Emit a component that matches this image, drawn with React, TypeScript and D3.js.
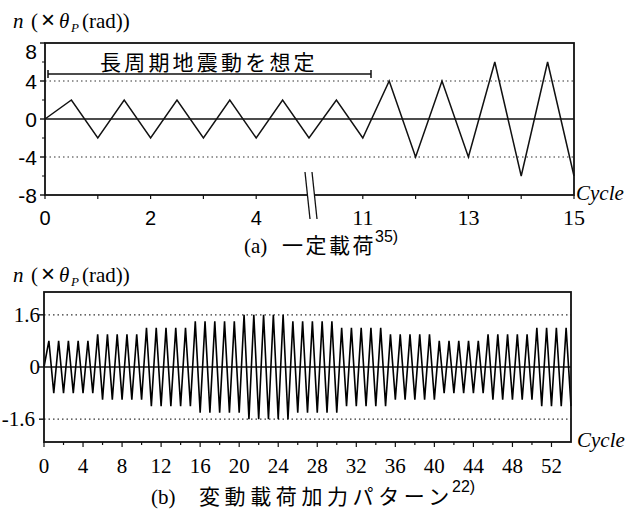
import * as d3 from 'd3';
import React, { useEffect, useRef } from 'react';

// (a) constant loading: cycles drawn and their amplitude (x theta_p)
const topCycles = [0, 1, 2, 3, 4, 10, 11, 12, 13, 14];
const topAmps = [2, 2, 2, 2, 2, 2, 4, 4, 6, 6];
const topYTicks = [-8, -4, 0, 4, 8];
const topYMinor = [-6, -2, 2, 6];
const topXTicks = [0, 1, 2, 3, 4, 5, 10, 11, 12, 13, 14, 15];
const topXLabelsSans = [0, 2, 4];
const topXLabelsSerif = [11, 13, 15];
const topDotted = [-4, 4];

// (b) variable loading: amplitude of each cycle 0..53
const botAmps = [
    0.8, 0.8, 0.8, 0.8, 0.8,
    1.0, 1.0, 1.0, 1.0, 1.0,
    1.2, 1.2, 1.2, 1.2, 1.2,
    1.4, 1.4, 1.4, 1.4, 1.4,
    1.6, 1.6, 1.6, 1.6, 1.6,
    1.4, 1.4, 1.4, 1.4, 1.4,
    1.2, 1.2, 1.2, 1.2, 1.2,
    1.0, 1.0, 1.0, 1.0, 1.0,
    0.8, 0.8, 0.8, 0.8, 0.8,
    1.0, 1.0, 1.0, 1.0, 1.0,
    1.2, 1.2, 1.2, 1.2
];
const botYTicks = [-1.6, 0, 1.6];
const botXLabels = [0, 4, 8, 12, 16, 20, 24, 28, 32, 36, 40, 44, 48, 52];
const botXTicks = d3.range(0, 54, 2);
const botDotted = [-1.6, 1.6];

const SERIF = '"Liberation Serif", "Times New Roman", serif';
const SANS = '"Liberation Sans", Arial, sans-serif';
const CJK = '"Noto Sans CJK JP", sans-serif';

function wave(cycles: number[], amps: number[]): [number, number][] {
    const pts: [number, number][] = [[cycles[0], 0]];
    cycles.forEach((c, i) => {
        pts.push([c + 0.5, amps[i]]);
        pts.push([c + 1, -amps[i]]);
    });
    return pts;
}

function yLabel(svg: any, y: number) {
    const t = svg.append('text')
        .attr('y', y)
        .style('font-family', SERIF)
        .style('font-size', '21px')
        .attr('fill', '#000');
    t.append('tspan').attr('x', 13).style('font-style', 'italic').text('n');
    t.append('tspan').attr('x', 31).text('(');
    t.append('tspan').attr('x', 41).style('font-family', SANS).style('font-size', '24px').text('×');
    t.append('tspan').attr('x', 59).style('font-style', 'italic').text('θ');
    t.append('tspan').attr('x', 71).attr('dy', 4).style('font-style', 'italic').style('font-size', '13px').text('P');
    t.append('tspan').attr('x', 82).attr('dy', -4).text('(rad))');
}

export default function App() {
    const ref = useRef<SVGSVGElement>(null);

    useEffect(() => {
        const svg = d3.select(ref.current);
        svg.selectAll('*').remove();

        // ---------- (a) ----------
        const x1 = d3.scaleLinear().domain([0, 5, 10, 15]).range([45, 309, 310, 574]);
        const y1 = d3.scaleLinear().domain([-8, 8]).range([195, 43]);

        yLabel(svg, 28);

        const g1 = svg.append('g');

        topDotted.forEach(v => {
            g1.append('line')
                .attr('x1', x1(0)).attr('x2', x1(15))
                .attr('y1', y1(v)).attr('y2', y1(v))
                .attr('stroke', '#333').attr('stroke-width', 1.2)
                .attr('stroke-dasharray', '1.5 3');
        });

        g1.append('line')
            .attr('x1', x1(0)).attr('x2', x1(15))
            .attr('y1', y1(0)).attr('y2', y1(0))
            .attr('stroke', '#111').attr('stroke-width', 1.6);

        const line1 = d3.line<[number, number]>()
            .x(d => x1(d[0]))
            .y(d => y1(d[1]));

        g1.append('path')
            .attr('d', line1(wave(topCycles, topAmps)))
            .attr('fill', 'none')
            .attr('stroke', '#111')
            .attr('stroke-width', 1.5)
            .attr('stroke-linejoin', 'miter');

        g1.append('rect')
            .attr('x', x1(0)).attr('y', y1(8))
            .attr('width', x1(15) - x1(0)).attr('height', y1(-8) - y1(8))
            .attr('fill', 'none').attr('stroke', '#111').attr('stroke-width', 1.8);

        topYTicks.forEach(v => {
            g1.append('line')
                .attr('x1', x1(0) - 5).attr('x2', x1(0))
                .attr('y1', y1(v)).attr('y2', y1(v))
                .attr('stroke', '#111').attr('stroke-width', 1.4);
            g1.append('text')
                .attr('x', 37)
                .attr('y', v === 8 ? y1(v) + 16 : y1(v) + 8)
                .attr('text-anchor', 'end')
                .style('font-family', SANS)
                .style('font-size', '21px')
                .text(v);
        });
        topYMinor.forEach(v => {
            g1.append('line')
                .attr('x1', x1(0) - 3).attr('x2', x1(0))
                .attr('y1', y1(v)).attr('y2', y1(v))
                .attr('stroke', '#111').attr('stroke-width', 1);
        });

        topXTicks.forEach(v => {
            g1.append('line')
                .attr('x1', x1(v)).attr('x2', x1(v))
                .attr('y1', y1(-8)).attr('y2', y1(-8) + 4)
                .attr('stroke', '#111').attr('stroke-width', 1.2);
        });
        topXLabelsSans.forEach(v => {
            g1.append('text')
                .attr('x', x1(v)).attr('y', 225)
                .attr('text-anchor', 'middle')
                .style('font-family', SANS)
                .style('font-size', '20px')
                .text(v);
        });
        topXLabelsSerif.forEach(v => {
            g1.append('text')
                .attr('x', x1(v)).attr('y', 225)
                .attr('text-anchor', 'middle')
                .style('font-family', SERIF)
                .style('font-size', '22px')
                .text(v);
        });

        // axis break
        const bx = x1(5);
        g1.append('polygon')
            .attr('points', `${bx - 4},172 ${bx + 3},172 ${bx + 8},219 ${bx + 1},219`)
            .attr('fill', '#fff');
        [[-4, 1], [3, 8]].forEach(([a, b]) => {
            g1.append('line')
                .attr('x1', bx + a).attr('y1', 172)
                .attr('x2', bx + b).attr('y2', 219)
                .attr('stroke', '#111').attr('stroke-width', 1.3);
        });

        g1.append('text')
            .attr('x', 576).attr('y', 200)
            .style('font-family', SERIF).style('font-style', 'italic')
            .style('font-size', '21px')
            .text('Cycle');

        // annotation
        const aY = 74;
        g1.append('line')
            .attr('x1', 48).attr('x2', 371).attr('y1', aY).attr('y2', aY)
            .attr('stroke', '#111').attr('stroke-width', 1.5);
        [48, 371].forEach(xv => {
            g1.append('line')
                .attr('x1', xv).attr('x2', xv).attr('y1', aY - 4).attr('y2', aY + 4)
                .attr('stroke', '#111').attr('stroke-width', 1.5);
        });
        g1.append('text')
            .attr('x', 100).attr('y', 70)
            .style('font-family', CJK)
            .style('font-size', '21px')
            .style('letter-spacing', '3.2px')
            .text('長周期地震動を想定');

        // caption (a)
        const c1 = g1.append('text').attr('y', 253).style('font-size', '21px');
        c1.append('tspan').attr('x', 244).style('font-family', SERIF).text('(a)');
        c1.append('tspan').attr('x', 282).style('font-family', CJK).style('letter-spacing', '2.5px').text('一定載荷');
        c1.append('tspan').attr('x', 375).attr('dy', -11).style('font-family', SANS).style('font-size', '16px').text('35)');

        // ---------- (b) ----------
        const x2 = d3.scaleLinear().domain([0, 54]).range([44, 571]);
        const y2 = d3.scaleLinear().domain([-2.3, 2.3]).range([442, 292]);

        yLabel(svg, 282);

        const g2 = svg.append('g');

        botDotted.forEach(v => {
            g2.append('line')
                .attr('x1', x2(0)).attr('x2', x2(54))
                .attr('y1', y2(v)).attr('y2', y2(v))
                .attr('stroke', '#333').attr('stroke-width', 1.2)
                .attr('stroke-dasharray', '1.5 3');
        });

        g2.append('line')
            .attr('x1', x2(0)).attr('x2', x2(54))
            .attr('y1', y2(0)).attr('y2', y2(0))
            .attr('stroke', '#111').attr('stroke-width', 1.6);

        const line2 = d3.line<[number, number]>()
            .x(d => x2(d[0]))
            .y(d => y2(d[1]));

        g2.append('path')
            .attr('d', line2(wave(d3.range(botAmps.length), botAmps)))
            .attr('fill', 'none')
            .attr('stroke', '#000')
            .attr('stroke-width', 1.6)
            .attr('stroke-linejoin', 'miter')
            .attr('stroke-miterlimit', 4);

        g2.append('rect')
            .attr('x', x2(0)).attr('y', y2(2.3))
            .attr('width', x2(54) - x2(0)).attr('height', y2(-2.3) - y2(2.3))
            .attr('fill', 'none').attr('stroke', '#111').attr('stroke-width', 1.8);

        botYTicks.forEach(v => {
            g2.append('line')
                .attr('x1', x2(0) - 5).attr('x2', x2(0))
                .attr('y1', y2(v)).attr('y2', y2(v))
                .attr('stroke', '#111').attr('stroke-width', 1.4);
            g2.append('text')
                .attr('x', v < 0 ? 35 : 40)
                .attr('y', y2(v) + 7)
                .attr('text-anchor', 'end')
                .style('font-family', SERIF)
                .style('font-size', '21px')
                .text(v);
        });

        botXTicks.forEach(v => {
            g2.append('line')
                .attr('x1', x2(v)).attr('x2', x2(v))
                .attr('y1', y2(-2.3)).attr('y2', y2(-2.3) + (v % 4 === 0 ? 5 : 3))
                .attr('stroke', '#111').attr('stroke-width', 1.2);
        });
        botXLabels.forEach(v => {
            g2.append('text')
                .attr('x', x2(v)).attr('y', 473)
                .attr('text-anchor', 'middle')
                .style('font-family', SERIF)
                .style('font-size', '21px')
                .text(v);
        });

        g2.append('text')
            .attr('x', 577).attr('y', 447)
            .style('font-family', SERIF).style('font-style', 'italic')
            .style('font-size', '21px')
            .text('Cycle');

        const c2 = g2.append('text').attr('y', 504).style('font-size', '21px');
        c2.append('tspan').attr('x', 151).style('font-family', SERIF).text('(b)');
        c2.append('tspan').attr('x', 199).style('font-family', CJK).style('letter-spacing', '4.6px').text('変動載荷加力パターン');
        c2.append('tspan').attr('x', 452).attr('dy', -12).style('font-family', SANS).style('font-size', '16px').text('22)');
    }, []);

    return (
        <svg
            ref={ref}
            width={642}
            height={509}
            style={{ position: 'absolute', left: 0, top: 0, background: '#fff' }}
        />
    );
}
